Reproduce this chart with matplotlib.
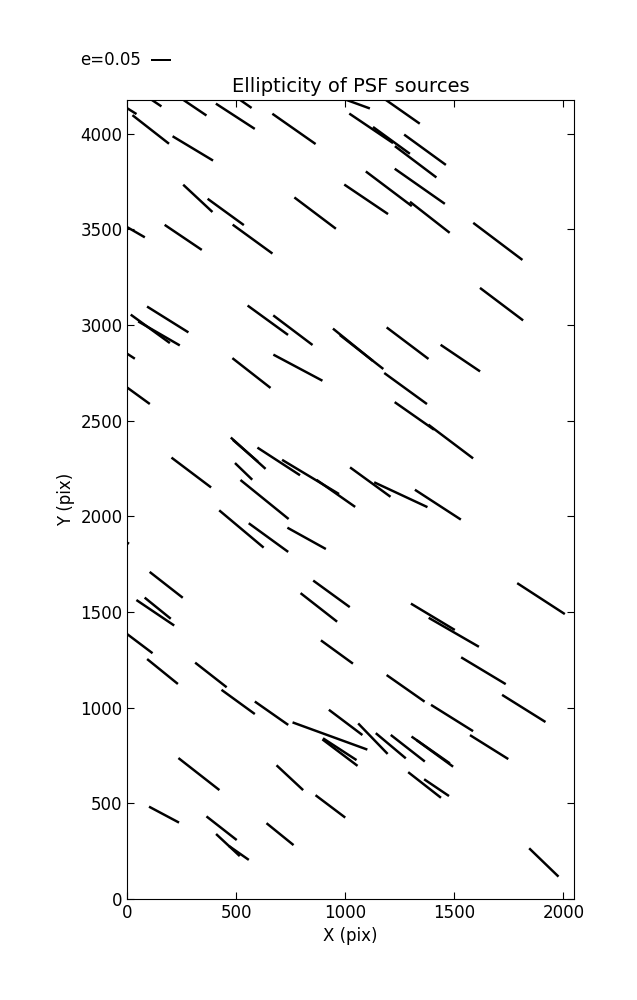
import numpy as np
import matplotlib
matplotlib.use('Agg')
import matplotlib.pyplot as plt

# PSF source positions (pix), ellipticity and position angle (deg)
x = [80, 295, 495, 520, 764, 1032, 1256, -8, 107, 300,
     323, 451, 861, 18, 256, 574, 1118, 1211, 1322, 1365,
     1341, 1199, 1387, 1095, 1699, 105, 145, 185, -12, 39,
     644, 759, 569, 782, 1034, 1074, 1716, 1285, 1527, 1276,
     1316, 1483, 293, 554, 541, 533, 629, 694, 840, 956,
     1114, 523, 647, 822, -53, 178, 1254, 1424, 1897, 128,
     139, 45, 161, 383, 508, 661, 929, 878, 936, 961,
     1001, 1126, 1208, 1286, 1391, 1410, 975, 974, 1401, 1497,
     1276, 1633, 1818, 1489, 1659, 328, 745, 931, 168, 432,
     461, 511, 700, 1363, 1418, 1910]
y = [4201, 4147, 4091, 4174, 4025, 4165, 4120, 4138, 4022, 3923,
     3662, 3591, 3585, 3499, 3458, 3449, 4028, 3965, 3853, 3916,
     3725, 3712, 3563, 3657, 3437, 2980, 2956, 3029, 2858, 2640,
     3025, 2973, 2749, 2777, 2897, 2859, 3109, 2905, 2827, 2668,
     2525, 2391, 2229, 2330, 2343, 2235, 2088, 2287, 2206, 2120,
     2179, 1934, 1889, 1885, 1898, 1642, 2113, 2061, 1570, 1496,
     1520, 1345, 1189, 1171, 1030, 971, 852, 1524, 1595, 1291,
     923, 838, 801, 788, 779, 761, 765, 783, 1475, 1394,
     1101, 1193, 996, 946, 794, 653, 634, 484, 441, 370,
     282, 241, 339, 596, 582, 191]
e = [0.100, 0.089, 0.116, 0.066, 0.132, 0.093, 0.113, 0.064, 0.116, 0.118,
     0.100, 0.112, 0.130, 0.078, 0.112, 0.123, 0.132, 0.114, 0.130, 0.129,
     0.153, 0.144, 0.126, 0.132, 0.154, 0.121, 0.120, 0.122, 0.060, 0.086,
     0.125, 0.123, 0.121, 0.139, 0.128, 0.138, 0.135, 0.131, 0.119, 0.132,
     0.120, 0.140, 0.124, 0.117, 0.083, 0.060, 0.155, 0.127, 0.166, 0.118,
     0.125, 0.145, 0.122, 0.110, 0.077, 0.105, 0.147, 0.137, 0.142, 0.114,
     0.084, 0.096, 0.099, 0.100, 0.103, 0.102, 0.199, 0.116, 0.113, 0.099,
     0.105, 0.106, 0.098, 0.108, 0.117, 0.113, 0.110, 0.100, 0.128, 0.145,
     0.116, 0.130, 0.128, 0.124, 0.113, 0.130, 0.091, 0.093, 0.085, 0.096,
     0.081, 0.061, 0.087, 0.104, 0.075, 0.102]
theta = [-34, -34, -33, -35, -35, -20, -35, -32, -38, -31,
         -43, -36, -37, -30, -34, -36, -34, -36, -37, -36,
         -35, -37, -38, -34, -37, -36, -30, -32, -33, -36,
         -36, -37, -38, -28, -39, -38, -37, -37, -34, -36,
         -35, -37, -37, -42, -41, -44, -39, -33, -31, -35,
         -36, -40, -36, -29, -31, -38, -25, -33, -33, -34,
         -39, -37, -39, -38, -36, -35, -20, -38, -36, -36,
         -37, -46, -40, -38, -35, -36, -37, -33, -31, -30,
         -35, -31, -32, -32, -32, -38, -43, -37, -28, -38,
         -43, -35, -39, -38, -34, -44]

x = np.array(x)
y = np.array(y)
e = np.array(e)
t = np.radians(theta)
u = e * np.cos(t)
v = e * np.sin(t)

plt.rcParams['font.size'] = 12

fig = plt.figure(figsize=(6.37, 10), dpi=100)
ax = fig.add_axes([0.2, 0.101, 0.701, 0.799])

# headless whiskers, 0.05 in e -> 0.2 inch
Q = ax.quiver(x, y, u, v, pivot='middle', headwidth=0, headlength=0,
              headaxislength=0, width=0.0055, scale=0.25, scale_units='inches',
              color='black')
ax.quiverkey(Q, 0.237, 0.94, 0.05, 'e=0.05', labelpos='W',
             coordinates='figure', fontproperties={'size': 12})

ax.set_xlim(0, 2048)
ax.set_ylim(0, 4176)
ax.set_xticks([0, 500, 1000, 1500, 2000])
ax.set_yticks([0, 500, 1000, 1500, 2000, 2500, 3000, 3500, 4000])
ax.tick_params(direction='in', top=True, right=True, length=5, labelsize=12)
ax.set_xlabel('X (pix)')
ax.set_ylabel('Y (pix)')
ax.set_title('Ellipticity of PSF sources', fontsize=14)

fig.savefig('out.png', dpi=100)
